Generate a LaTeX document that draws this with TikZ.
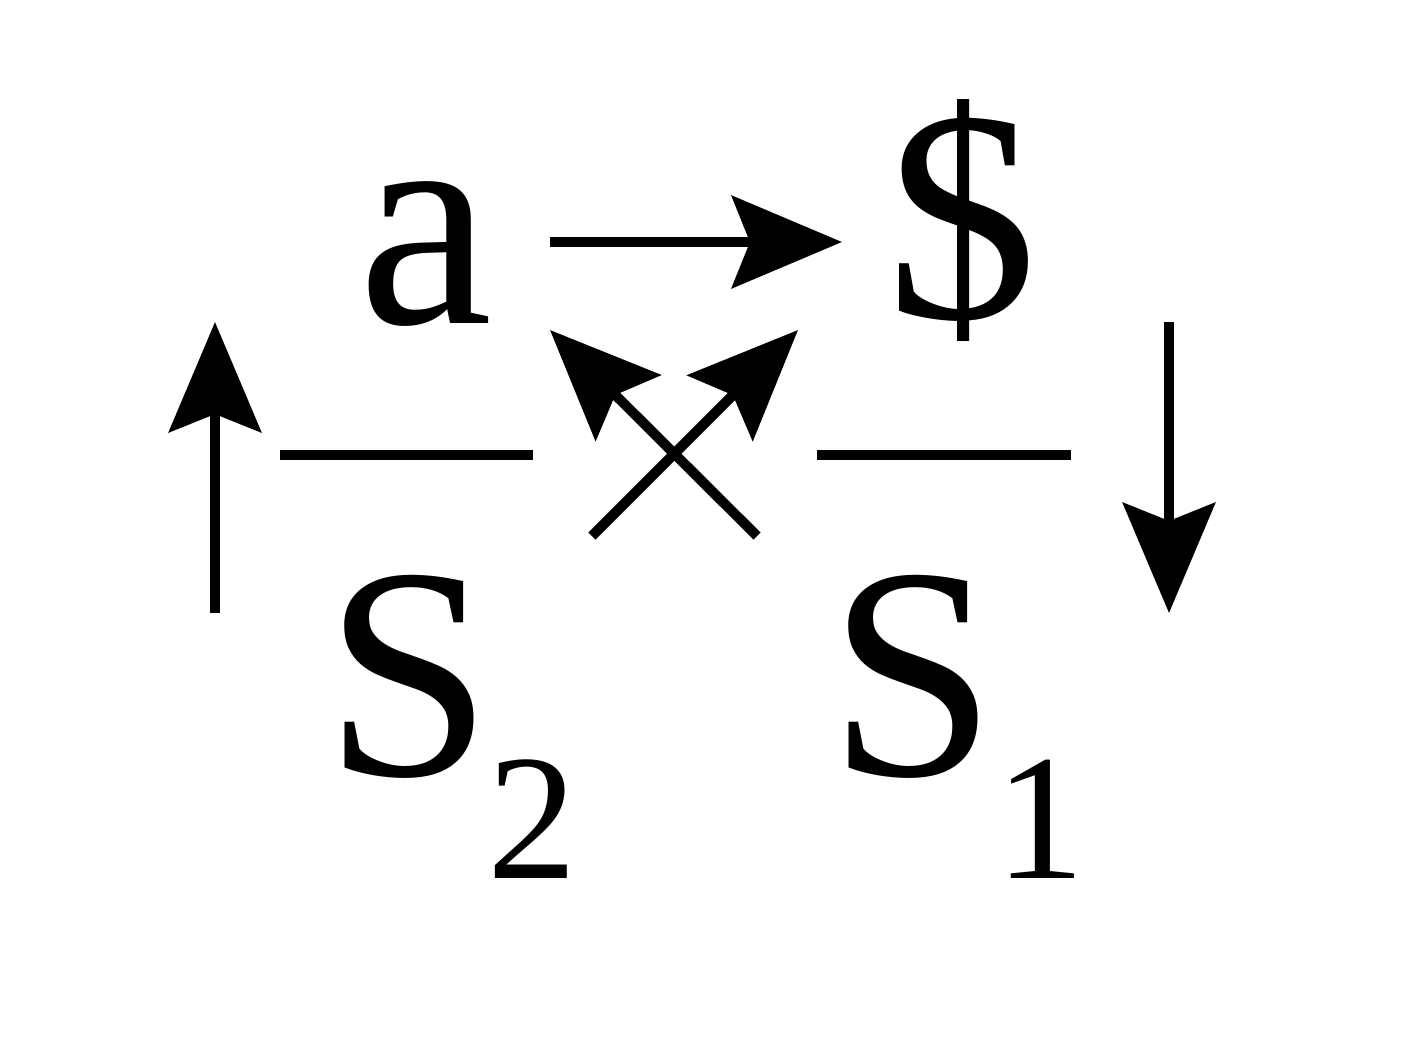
\documentclass[tikz,border=0pt]{standalone}
\usepackage{fontspec}
\setmainfont{Liberation Serif}
\usetikzlibrary{arrows.meta}
\begin{document}
\begin{tikzpicture}[x=0.01cm,y=-0.01cm,
  big/.style={inner sep=0pt,anchor=base,font=\fontsize{86}{96}\selectfont},
  sub/.style={inner sep=0pt,anchor=base,font=\fontsize{51}{60}\selectfont},
  arr/.style={line width=2.85pt,-{Stealth[length=1.1cm,width=0.92cm,inset=0.18cm]}},
  bar/.style={line width=2.85pt}]
\useasboundingbox (0,0) rectangle (1421,1036);
\node[big] (a) at (426,323) {a};
\node[big] (dollar) at (962,318) {\$};
\node[big] (S2) at (409,775) {S};
\node[sub] (s2) at (532,878) {2};
\node[big] (S1) at (913,775) {S};
\node[sub] (s1) at (1040,878) {1};
% top arrow
\coordinate (t1) at (550,242);
\coordinate (t2) at (842,242);
\draw[arr] (t1) -- (t2);
% left up arrow
\coordinate (l1) at (215,613);
\coordinate (l2) at (215,322);
\draw[arr] (l1) -- (l2);
% right down arrow
\coordinate (r1) at (1169,322);
\coordinate (r2) at (1169,613);
\draw[arr] (r1) -- (r2);
% bars
\coordinate (b1) at (280,455);
\coordinate (b2) at (533,455);
\coordinate (b3) at (817,455);
\coordinate (b4) at (1071,455);
\draw[bar] (b1) -- (b2);
\draw[bar] (b3) -- (b4);
% crossed arrows
\coordinate (c1) at (757,536);
\coordinate (c2) at (550,330);
\coordinate (c3) at (592,536);
\coordinate (c4) at (798,330);
\draw[arr] (c1) -- (c2);
\draw[arr] (c3) -- (c4);
\end{tikzpicture}
\end{document}
